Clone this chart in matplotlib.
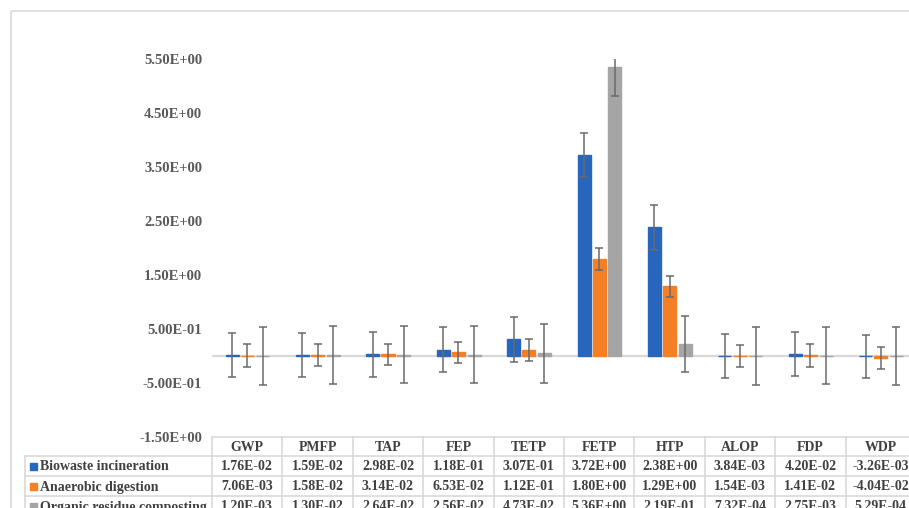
import matplotlib
matplotlib.use("Agg")
import matplotlib.pyplot as plt
from matplotlib.patches import Rectangle
from matplotlib.lines import Line2D

categories = ["GWP", "PMFP", "TAP", "FEP", "TETP", "FETP", "HTP", "ALOP", "FDP", "WDP"]
series_names = ["Biowaste incineration", "Anaerobic digestion", "Organic residue composting"]
biowaste = [1.76e-02, 1.59e-02, 2.98e-02, 1.18e-01, 3.07e-01, 3.72e+00, 2.38e+00, 3.84e-03, 4.20e-02, -3.26e-03]
anaerobic = [7.06e-03, 1.58e-02, 3.14e-02, 6.53e-02, 1.12e-01, 1.80e+00, 1.29e+00, 1.54e-03, 1.41e-02, -4.04e-02]
composting = [1.20e-03, 1.30e-02, 2.64e-02, 2.56e-02, 4.73e-02, 5.36e+00, 2.19e-01, 7.32e-04, 2.75e-03, 5.29e-04]
err_biowaste = [0.41, 0.41, 0.41, 0.41, 0.41, 0.41, 0.41, 0.41, 0.41, 0.40]
err_anaerobic = [0.21, 0.20, 0.20, 0.20, 0.21, 0.20, 0.20, 0.20, 0.21, 0.20]
err_composting = [0.54, 0.54, 0.53, 0.53, 0.54, 0.54, 0.52, 0.53, 0.53, 0.54]
yticks = [-1.5, -0.5, 0.5, 1.5, 2.5, 3.5, 4.5, 5.5]

colors = ["#2866BE", "#F47F24", "#A5A5A5"]
W, H = 909, 508
fig = plt.figure(figsize=(W / 100, H / 100), dpi=100)
fig.patch.set_facecolor("white")

# overlay pixel axes for border and table
ov = fig.add_axes([0, 0, 1, 1])
ov.set_xlim(0, W)
ov.set_ylim(H, 0)
ov.axis("off")
ov.add_patch(Rectangle((11, 11), 1000, 1000, fill=False, ec="#D9D9D9", lw=1.2))

x0, colw = 212, 70.4
ncat = len(categories)
ytop, yaxis0 = 437, 59
ax = fig.add_axes([x0 / W, 1 - ytop / H, ncat * colw / W, (ytop - yaxis0) / H])
ax.set_facecolor("none")
ax.set_xlim(-0.5, ncat - 0.5)
ax.set_ylim(-1.5, 5.5)
for s in ax.spines.values():
    s.set_visible(False)
ax.axhline(0, color="#D9D9D9", lw=1.6, zorder=1)

bw = 0.185
offs = [-0.215, 0.0, 0.222]
xs = list(range(ncat))
all_vals = [biowaste, anaerobic, composting]
all_errs = [err_biowaste, err_anaerobic, err_composting]
for vals, errs, c, o in zip(all_vals, all_errs, colors, offs):
    pos = [x + o for x in xs]
    ax.bar(pos, vals, width=bw, color=c, edgecolor=c, linewidth=1.0, zorder=2)
    ax.errorbar(pos, vals, yerr=errs, fmt="none", ecolor="#6A6A6A", elinewidth=1.1,
                capsize=3, capthick=1.1, zorder=3)

ax.set_xticks([])
ax.set_yticks(yticks)
ax.set_yticklabels([f"{v:.2E}" for v in yticks], fontfamily="Liberation Serif",
                   fontweight="bold", fontsize=10.5, color="#595959")
ax.tick_params(axis="y", length=0, pad=7)

# data table
lc = "#D9D9D9"
tfont = dict(fontfamily="Liberation Serif", fontweight="bold", fontsize=10, color="#404040")
row_y = [437, 456, 476, 496, 516]
xr = x0 + ncat * colw
ov.add_line(Line2D([x0, xr], [row_y[0], row_y[0]], color=lc, lw=1.2))
for yy in row_y[1:]:
    ov.add_line(Line2D([25, xr], [yy, yy], color=lc, lw=1.2))
ov.add_line(Line2D([25, 25], [row_y[1], H + 5], color=lc, lw=1.2))
for i in range(ncat + 1):
    xx = x0 + i * colw
    ov.add_line(Line2D([xx, xx], [row_y[0], H + 5], color=lc, lw=1.2))
for i, cat in enumerate(categories):
    ov.text(x0 + (i + 0.5) * colw, (row_y[0] + row_y[1]) / 2 + 1, cat,
            ha="center", va="center", **tfont)
for r, (name, vals, c) in enumerate(zip(series_names, all_vals, colors)):
    yc = (row_y[r + 1] + row_y[r + 2]) / 2 + 1
    ov.add_patch(Rectangle((30, yc - 4), 7, 7, color=c))
    ov.text(40, yc, name, ha="left", va="center", **tfont)
    for i, v in enumerate(vals):
        ov.text(x0 + (i + 0.5) * colw, yc, f"{v:.2E}", ha="center", va="center", **tfont)

fig.savefig("out.png", dpi=100)
